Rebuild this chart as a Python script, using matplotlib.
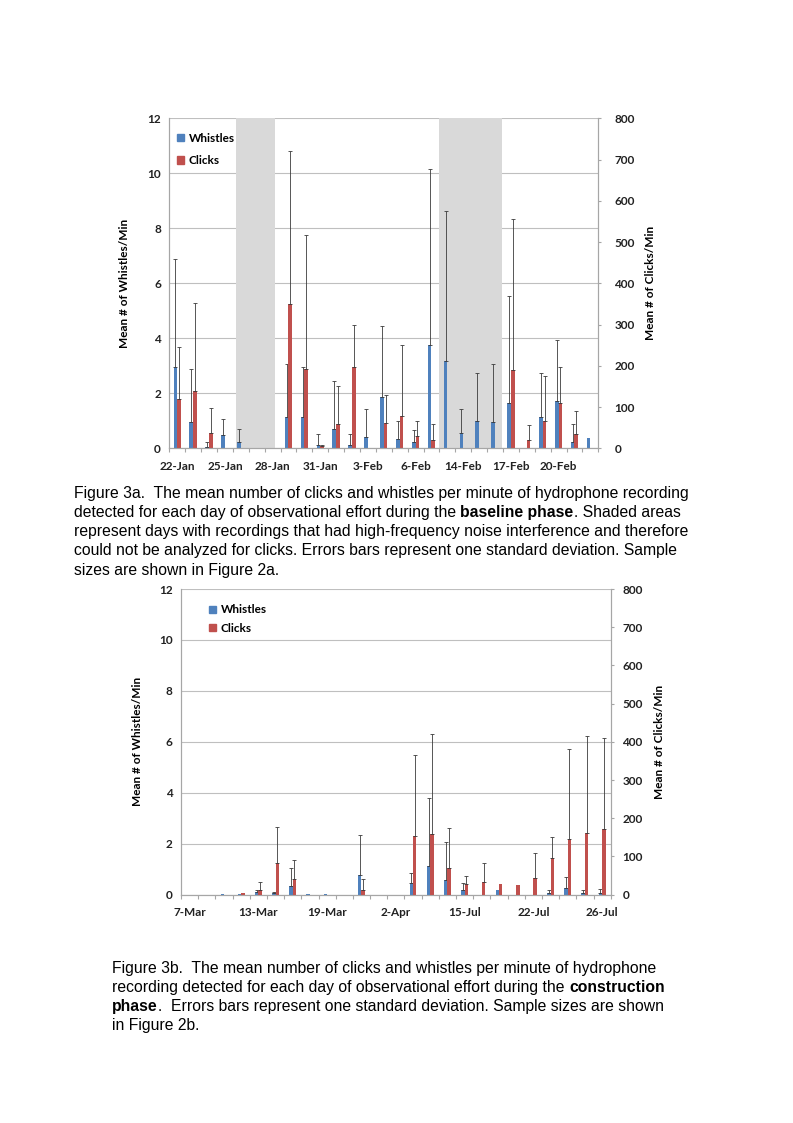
import numpy as np
import matplotlib.pyplot as plt
from matplotlib.patches import Patch

nan = np.nan

# Figure 3a - baseline phase
base_days = ["22-Jan", "23-Jan", "24-Jan", "25-Jan", "26-Jan", "27-Jan", "28-Jan", "29-Jan", "30-Jan",
             "31-Jan", "1-Feb", "2-Feb", "3-Feb", "4-Feb", "5-Feb", "6-Feb", "7-Feb", "13-Feb",
             "14-Feb", "15-Feb", "16-Feb", "17-Feb", "18-Feb", "19-Feb", "20-Feb", "21-Feb", "22-Feb"]
base_whistles = [2.94, 0.97, 0.04, 0.50, 0.24, 0, 0, 1.15, 1.15, 0.12, 0.70, 0.12, 0.41, 1.88,
                 0.33, 0.24, 3.76, 3.19, 0.57, 1.01, 0.97, 1.65, 0, 1.15, 1.71, 0.24, 0.36]
base_whistles_sd = [3.94, 1.92, 0.18, 0.56, 0.46, nan, nan, 1.91, 1.80, 0.40, 1.76, 0.39, 1.02, 2.55,
                    0.68, 0.43, 6.41, 5.43, 0.86, 1.73, 2.08, 3.88, nan, 1.60, 2.21, 0.63, nan]
base_clicks = [119, 140, 37, 1, nan, nan, nan, 350, 193, 5, 59, 196, 1, 61,
               78, 31, 20, nan, nan, nan, nan, 189, 20, 67, 110, 35, 0]
base_clicks_sd = [126, 213, 60, nan, nan, nan, nan, 370, 325, 2, 91, 102, nan, 68,
                  173, 34, 39, nan, nan, nan, nan, 368, 37, 108, 87, 55, nan]
# shaded days (noise interference), in category units
base_shade = [(3.72, 6.13), (16.49, 20.46)]

# Figure 3b - construction phase
const_days = ["7-Mar", "8-Mar", "10-Mar", "11-Mar", "13-Mar", "14-Mar", "16-Mar", "17-Mar", "19-Mar",
              "20-Mar", "22-Mar", "31-Mar", "2-Apr", "3-Apr", "12-Jul", "14-Jul", "15-Jul", "16-Jul",
              "18-Jul", "21-Jul", "22-Jul", "23-Jul", "24-Jul", "25-Jul", "26-Jul"]
const_whistles = [0, 0, 0.02, 0.03, 0.10, 0.05, 0.34, 0.02, 0.02, 0, 0.79, 0, 0, 0.45, 1.14,
                  0.58, 0.18, 0, 0.17, 0, 0, 0.07, 0.26, 0.07, 0.08]
const_whistles_sd = [nan, nan, nan, nan, 0.10, 0.04, 0.69, nan, nan, nan, 1.57, nan, nan, 0.40, 2.64,
                     1.50, 0.29, nan, nan, nan, nan, 0.10, 0.42, 0.13, 0.13]
const_clicks = [0, 0, 0, 5, 12, 84, 41, 0, 0, 0, 12, 0, 0, 153, 159,
                69, 27, 34, 28, 26, 45, 96, 147, 161, 173]
const_clicks_sd = [nan, nan, nan, nan, 20, 92, 49, nan, nan, nan, 29, nan, nan, 213, 261,
                   105, 23, 49, nan, nan, 63, 55, 235, 255, 237]

blue = "#4F81BD"
red = "#C0504D"
axis_grey = "#A6A6A6"
tick_font = "Lato"

W, H = 793, 1123
fig = plt.figure(figsize=(W / 100, H / 100), dpi=100)


def px_rect(left, top, right, bottom):
    return [left / W, 1 - bottom / H, (right - left) / W, (bottom - top) / H]


def bar_chart(rect, days, wh, wh_sd, cl, cl_sd, step, bw, shade, leg_xy, leg_space,
              ylab_x, y2lab_x, y2pad):
    ax = fig.add_axes(rect)
    ax2 = ax.twinx()
    n = len(days)
    x = np.arange(n)
    wh = np.array(wh, float)
    wh_sd = np.array(wh_sd, float)
    cl = np.array(cl, float)
    cl_sd = np.array(cl_sd, float)

    ax.set_axisbelow(True)
    ax.grid(axis="y", color="#BFBFBF", linewidth=0.8, zorder=0)
    for a, b in shade:
        ax.axvspan(a, b, color="#D9D9D9", zorder=1, lw=0)

    ax.bar(x - bw / 2, wh, bw, color=blue, zorder=2)
    m = ~np.isnan(wh_sd)
    ax.errorbar(x[m] - bw / 2, wh[m], yerr=[np.zeros(m.sum()), wh_sd[m]], fmt="none",
                ecolor="#3A3A3A", elinewidth=0.6, capsize=1.4, capthick=0.6, zorder=3)
    ax2.bar(x + bw / 2, cl, bw, color=red, zorder=2)
    m = ~np.isnan(cl_sd)
    ax2.errorbar(x[m] + bw / 2, cl[m], yerr=[np.zeros(m.sum()), cl_sd[m]], fmt="none",
                 ecolor="#3A3A3A", elinewidth=0.6, capsize=1.4, capthick=0.6, zorder=3)

    ax.set_xlim(-0.5, n - 0.5)
    ax.set_ylim(0, 12)
    ax.set_yticks(range(0, 13, 2))
    ax2.set_ylim(0, 800)
    ax2.set_yticks(range(0, 801, 100))

    ax.set_xticks(x[::step])
    ax.set_xticklabels(days[::step])
    ax.set_xticks(np.arange(-0.5, n, 1), minor=True)
    ax.tick_params(axis="x", which="major", length=0, pad=9)
    ax.tick_params(axis="x", which="minor", length=3, color=axis_grey, width=0.8)
    ax.tick_params(axis="y", length=0, pad=6)
    ax2.tick_params(axis="y", length=2.5, color=axis_grey, width=0.8, pad=y2pad)

    for a in (ax, ax2):
        a.spines["top"].set_visible(False)
        for s in ("left", "right", "bottom"):
            a.spines[s].set_color(axis_grey)
            a.spines[s].set_linewidth(0.8)
        for lab in a.get_xticklabels() + a.get_yticklabels():
            lab.set_fontfamily(tick_font)
            lab.set_fontweight("bold")
            lab.set_fontsize(8.5)
            lab.set_color("#222222")

    ax.set_ylabel("Mean # of Whistles/Min", fontfamily=tick_font, fontweight="bold", fontsize=8.5)
    ax.yaxis.set_label_coords(ylab_x, 0.5)
    ax2.set_ylabel("Mean # of Clicks/Min", fontfamily=tick_font, fontweight="bold", fontsize=8.5)
    ax2.yaxis.set_label_coords(y2lab_x, 0.5)

    handles = [Patch(color=blue, label="Whistles"), Patch(color=red, label="Clicks")]
    ax2.legend(handles=handles, loc="upper left", bbox_to_anchor=leg_xy, frameon=False,
               handlelength=0.55, handleheight=0.55, handletextpad=0.4, labelspacing=leg_space,
               borderaxespad=0, prop={"family": tick_font, "weight": "bold", "size": 8.5})
    return ax


bar_chart(px_rect(169.3, 118.3, 598.3, 448.3), base_days, base_whistles, base_whistles_sd,
          base_clicks, base_clicks_sd, 3, 0.23, base_shade, (0.008, 0.97), 0.95,
          -0.091, 1.11, 9)
bar_chart(px_rect(181, 589, 610.7, 894.7), const_days, const_whistles, const_whistles_sd,
          const_clicks, const_clicks_sd, 4, 0.2, [], (0.055, 0.965), 0.6,
          -0.088, 1.10, 6)

# captions with bold parts
renderer = fig.canvas.get_renderer()
cap_font = dict(family=["Liberation Sans", "DejaVu Sans"], size=11.3, color="#000000")


def caption_line(x_px, y_px, parts):
    x = x_px / W
    for txt, weight in parts:
        t = fig.text(x, 1 - y_px / H, txt, ha="left", va="center", fontweight=weight, **cap_font)
        x += t.get_window_extent(renderer=renderer).width / W


cap_a = [
    [("Figure 3a.  The mean number of clicks and whistles per minute of hydrophone recording", "normal")],
    [("detected for each day of observational effort during the ", "normal"),
     ("baseline phase", "bold"), (". Shaded areas", "normal")],
    [("represent days with recordings that had high-frequency noise interference and therefore", "normal")],
    [("could not be analyzed for clicks. Errors bars represent one standard deviation. Sample", "normal")],
    [("sizes are shown in Figure 2a.", "normal")],
]
cap_b = [
    [("Figure 3b.  The mean number of clicks and whistles per minute of hydrophone", "normal")],
    [("recording detected for each day of observational effort during the ", "normal"),
     ("construction", "bold")],
    [("phase", "bold"), (".  Errors bars represent one standard deviation. Sample sizes are shown", "normal")],
    [("in Figure 2b.", "normal")],
]
for i, parts in enumerate(cap_a):
    caption_line(74, 493.3 + i * 19.2, parts)
for i, parts in enumerate(cap_b):
    caption_line(112, 968.3 + i * 19.2, parts)

fig.savefig("out.png", dpi=100)
